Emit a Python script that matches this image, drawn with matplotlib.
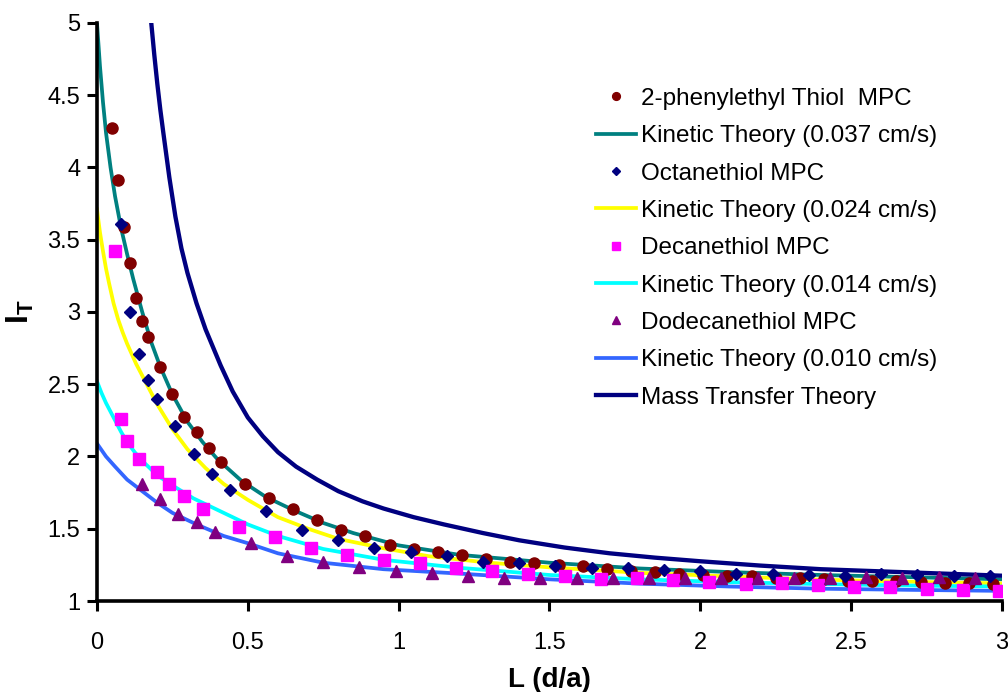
import matplotlib
matplotlib.use("Agg")
import matplotlib.pyplot as plt

plt.rcParams['font.family'] = ['Liberation Sans', 'DejaVu Sans']
plt.rcParams['mathtext.fontset'] = 'custom'
plt.rcParams['mathtext.bf'] = 'Liberation Sans:bold'
plt.rcParams['mathtext.rm'] = 'Liberation Sans'

# data points
phenyl_x = [0.05, 0.07, 0.09, 0.11, 0.13, 0.15, 0.17, 0.21, 0.25, 0.29, 0.33, 0.37, 0.41,
            0.49, 0.57, 0.65, 0.73, 0.81, 0.89, 0.97, 1.05, 1.13, 1.21, 1.29, 1.37, 1.45,
            1.53, 1.61, 1.69, 1.77, 1.85, 1.93, 2.01, 2.09, 2.17, 2.25, 2.33, 2.41, 2.49,
            2.57, 2.65, 2.73, 2.81, 2.89, 2.97]
phenyl_y = [4.27, 3.91, 3.59, 3.34, 3.10, 2.94, 2.83, 2.62, 2.43, 2.27, 2.17, 2.06, 1.96,
            1.81, 1.71, 1.64, 1.56, 1.49, 1.45, 1.39, 1.36, 1.34, 1.32, 1.29, 1.27, 1.26,
            1.25, 1.24, 1.22, 1.21, 1.20, 1.19, 1.18, 1.175, 1.17, 1.16, 1.157, 1.15, 1.14,
            1.135, 1.14, 1.13, 1.125, 1.125, 1.12]

octane_x = [0.08, 0.11, 0.14, 0.17, 0.20, 0.26, 0.32, 0.38, 0.44, 0.56, 0.68, 0.80, 0.92,
            1.04, 1.16, 1.28, 1.40, 1.52, 1.64, 1.76, 1.88, 2.00, 2.12, 2.24, 2.36, 2.48,
            2.60, 2.72, 2.84, 2.96]
octane_y = [3.61, 3.00, 2.71, 2.53, 2.40, 2.21, 2.02, 1.88, 1.77, 1.62, 1.49, 1.42, 1.365,
            1.34, 1.31, 1.27, 1.26, 1.245, 1.23, 1.23, 1.215, 1.205, 1.19, 1.187, 1.18, 1.175,
            1.187, 1.18, 1.175, 1.175]

decane_x = [0.06, 0.08, 0.10, 0.14, 0.20, 0.24, 0.29, 0.35, 0.47, 0.59, 0.71, 0.83, 0.95,
            1.07, 1.19, 1.31, 1.43, 1.55, 1.67, 1.79, 1.91, 2.03, 2.15, 2.27, 2.39, 2.51,
            2.63, 2.75, 2.87, 2.99]
decane_y = [3.42, 2.26, 2.11, 1.98, 1.89, 1.81, 1.73, 1.64, 1.51, 1.44, 1.365, 1.32, 1.285,
            1.263, 1.226, 1.205, 1.187, 1.175, 1.152, 1.157, 1.145, 1.13, 1.118, 1.122, 1.11,
            1.10, 1.095, 1.083, 1.078, 1.067]

dodecane_x = [0.15, 0.21, 0.27, 0.33, 0.39, 0.51, 0.63, 0.75, 0.87, 0.99, 1.11, 1.23, 1.35,
              1.47, 1.59, 1.71, 1.83, 1.95, 2.07, 2.19, 2.31, 2.43, 2.55, 2.67, 2.79, 2.91]
dodecane_y = [1.81, 1.705, 1.60, 1.55, 1.48, 1.40, 1.31, 1.27, 1.235, 1.21, 1.194, 1.17, 1.16,
              1.157, 1.157, 1.157, 1.157, 1.157, 1.157, 1.157, 1.157, 1.157, 1.164, 1.16,
              1.164, 1.16]

# theory curves
k037_x = [0, 0.01, 0.02, 0.03, 0.045, 0.06, 0.08, 0.10, 0.12, 0.15, 0.18, 0.21, 0.25, 0.30,
          0.35, 0.40, 0.48, 0.56, 0.65, 0.75, 0.85, 1.0, 1.2, 1.5, 1.8, 2.1, 2.4, 2.7, 3.0]
k037_y = [5.0, 4.70, 4.45, 4.24, 4.00, 3.80, 3.58, 3.40, 3.23, 3.00, 2.79, 2.62, 2.43, 2.24,
          2.10, 1.98, 1.83, 1.72, 1.63, 1.54, 1.47, 1.385, 1.32, 1.265, 1.225, 1.20, 1.18,
          1.165, 1.15]

k024_x = [0, 0.01, 0.02, 0.03, 0.04, 0.055, 0.07, 0.085, 0.10, 0.13, 0.16, 0.20, 0.25, 0.30,
          0.36, 0.42, 0.50, 0.60, 0.70, 0.80, 0.95, 1.1, 1.3, 1.5, 1.8, 2.1, 2.4, 2.7, 3.0]
k024_y = [3.71, 3.55, 3.42, 3.30, 3.20, 3.06, 2.95, 2.86, 2.78, 2.64, 2.52, 2.36, 2.19, 2.05,
          1.92, 1.81, 1.70, 1.58, 1.50, 1.43, 1.365, 1.31, 1.265, 1.233, 1.195, 1.17, 1.148,
          1.133, 1.122]

k014_x = [0, 0.015, 0.03, 0.045, 0.06, 0.08, 0.10, 0.125, 0.15, 0.20, 0.25, 0.32, 0.42, 0.50,
          0.60, 0.75, 0.95, 1.2, 1.5, 1.8, 2.1, 2.4, 2.7, 3.0]
k014_y = [2.52, 2.44, 2.37, 2.31, 2.25, 2.17, 2.10, 2.03, 1.97, 1.87, 1.80, 1.71, 1.61, 1.53,
          1.45, 1.36, 1.285, 1.23, 1.18, 1.15, 1.13, 1.117, 1.107, 1.10]

k010_x = [0, 0.015, 0.03, 0.045, 0.06, 0.08, 0.10, 0.125, 0.15, 0.20, 0.25, 0.33, 0.42, 0.50,
          0.60, 0.75, 0.95, 1.2, 1.5, 1.8, 2.1, 2.4, 2.7, 3.0]
k010_y = [2.09, 2.045, 2.00, 1.965, 1.93, 1.885, 1.84, 1.80, 1.76, 1.68, 1.61, 1.53, 1.45,
          1.40, 1.33, 1.265, 1.22, 1.19, 1.15, 1.12, 1.10, 1.085, 1.077, 1.07]

mass_x = [0.18, 0.19, 0.20, 0.21, 0.22, 0.24, 0.26, 0.28, 0.30, 0.33, 0.36, 0.41, 0.45, 0.50,
          0.55, 0.60, 0.66, 0.73, 0.80, 0.88, 0.95, 1.05, 1.15, 1.28, 1.40, 1.55, 1.70, 1.85,
          2.0, 2.2, 2.4, 2.6, 2.8, 3.0]
mass_y = [5.0, 4.78, 4.58, 4.40, 4.24, 3.93, 3.66, 3.44, 3.27, 3.06, 2.88, 2.63, 2.45, 2.27,
          2.14, 2.03, 1.93, 1.84, 1.76, 1.69, 1.64, 1.58, 1.53, 1.47, 1.42, 1.37, 1.33, 1.30,
          1.275, 1.245, 1.22, 1.205, 1.19, 1.175]

fig = plt.figure(figsize=(10.08, 6.92), dpi=100)
ax = fig.add_axes([0.0962, 0.1315, 0.8978, 0.8353])

lw = 2.7
ms = 8
ax.plot(phenyl_x, phenyl_y, 'o', color='#800000', ms=ms, mec='#800000', zorder=4,
        label='2-phenylethyl Thiol  MPC')
ax.plot(k037_x, k037_y, '-', color='#008080', lw=lw, zorder=2,
        label='Kinetic Theory (0.037 cm/s)')
ax.plot(octane_x, octane_y, 'D', color='#000080', ms=6.5, zorder=4, label='Octanethiol MPC')
ax.plot(k024_x, k024_y, '-', color='#FFFF00', lw=lw, zorder=2,
        label='Kinetic Theory (0.024 cm/s)')
ax.plot(decane_x, decane_y, 's', color='#FF00FF', ms=ms, zorder=4, label='Decanethiol MPC')
ax.plot(k014_x, k014_y, '-', color='#00FFFF', lw=lw, zorder=2,
        label='Kinetic Theory (0.014 cm/s)')
ax.plot(dodecane_x, dodecane_y, '^', color='#800080', ms=8.5, zorder=4,
        label='Dodecanethiol MPC')
ax.plot(k010_x, k010_y, '-', color='#3366FF', lw=lw, zorder=2,
        label='Kinetic Theory (0.010 cm/s)')
ax.plot(mass_x, mass_y, '-', color='#000080', lw=3.1, zorder=3,
        label='Mass Transfer Theory')

ax.set_xlim(0, 3)
ax.set_ylim(1, 5)
ax.set_xticks([0, 0.5, 1, 1.5, 2, 2.5, 3])
ax.set_xticklabels(['0', '0.5', '1', '1.5', '2', '2.5', '3'])
ax.set_yticks([1, 1.5, 2, 2.5, 3, 3.5, 4, 4.5, 5])
ax.set_yticklabels(['1', '1.5', '2', '2.5', '3', '3.5', '4', '4.5', '5'])

for s in ['top', 'right']:
    ax.spines[s].set_visible(False)
for s in ['left', 'bottom']:
    ax.spines[s].set_linewidth(2.6)
ax.tick_params(axis='both', direction='out', length=7, width=2.2, labelsize=17)
ax.tick_params(axis='x', pad=15)
ax.tick_params(axis='y', pad=5)

ax.set_xlabel('L (d/a)', fontsize=20, fontweight='bold', labelpad=10)
ax.set_ylabel(r'$\mathbf{I_T}$', fontsize=23, rotation=90, labelpad=8)

ax.legend(loc='upper left', bbox_to_anchor=(0.582, 0.887), bbox_transform=fig.transFigure,
          frameon=False, fontsize=17.5, handlelength=1.65, handletextpad=0.2,
          labelspacing=0.63, markerscale=0.7, borderaxespad=0)

fig.savefig('out.png', dpi=100)
